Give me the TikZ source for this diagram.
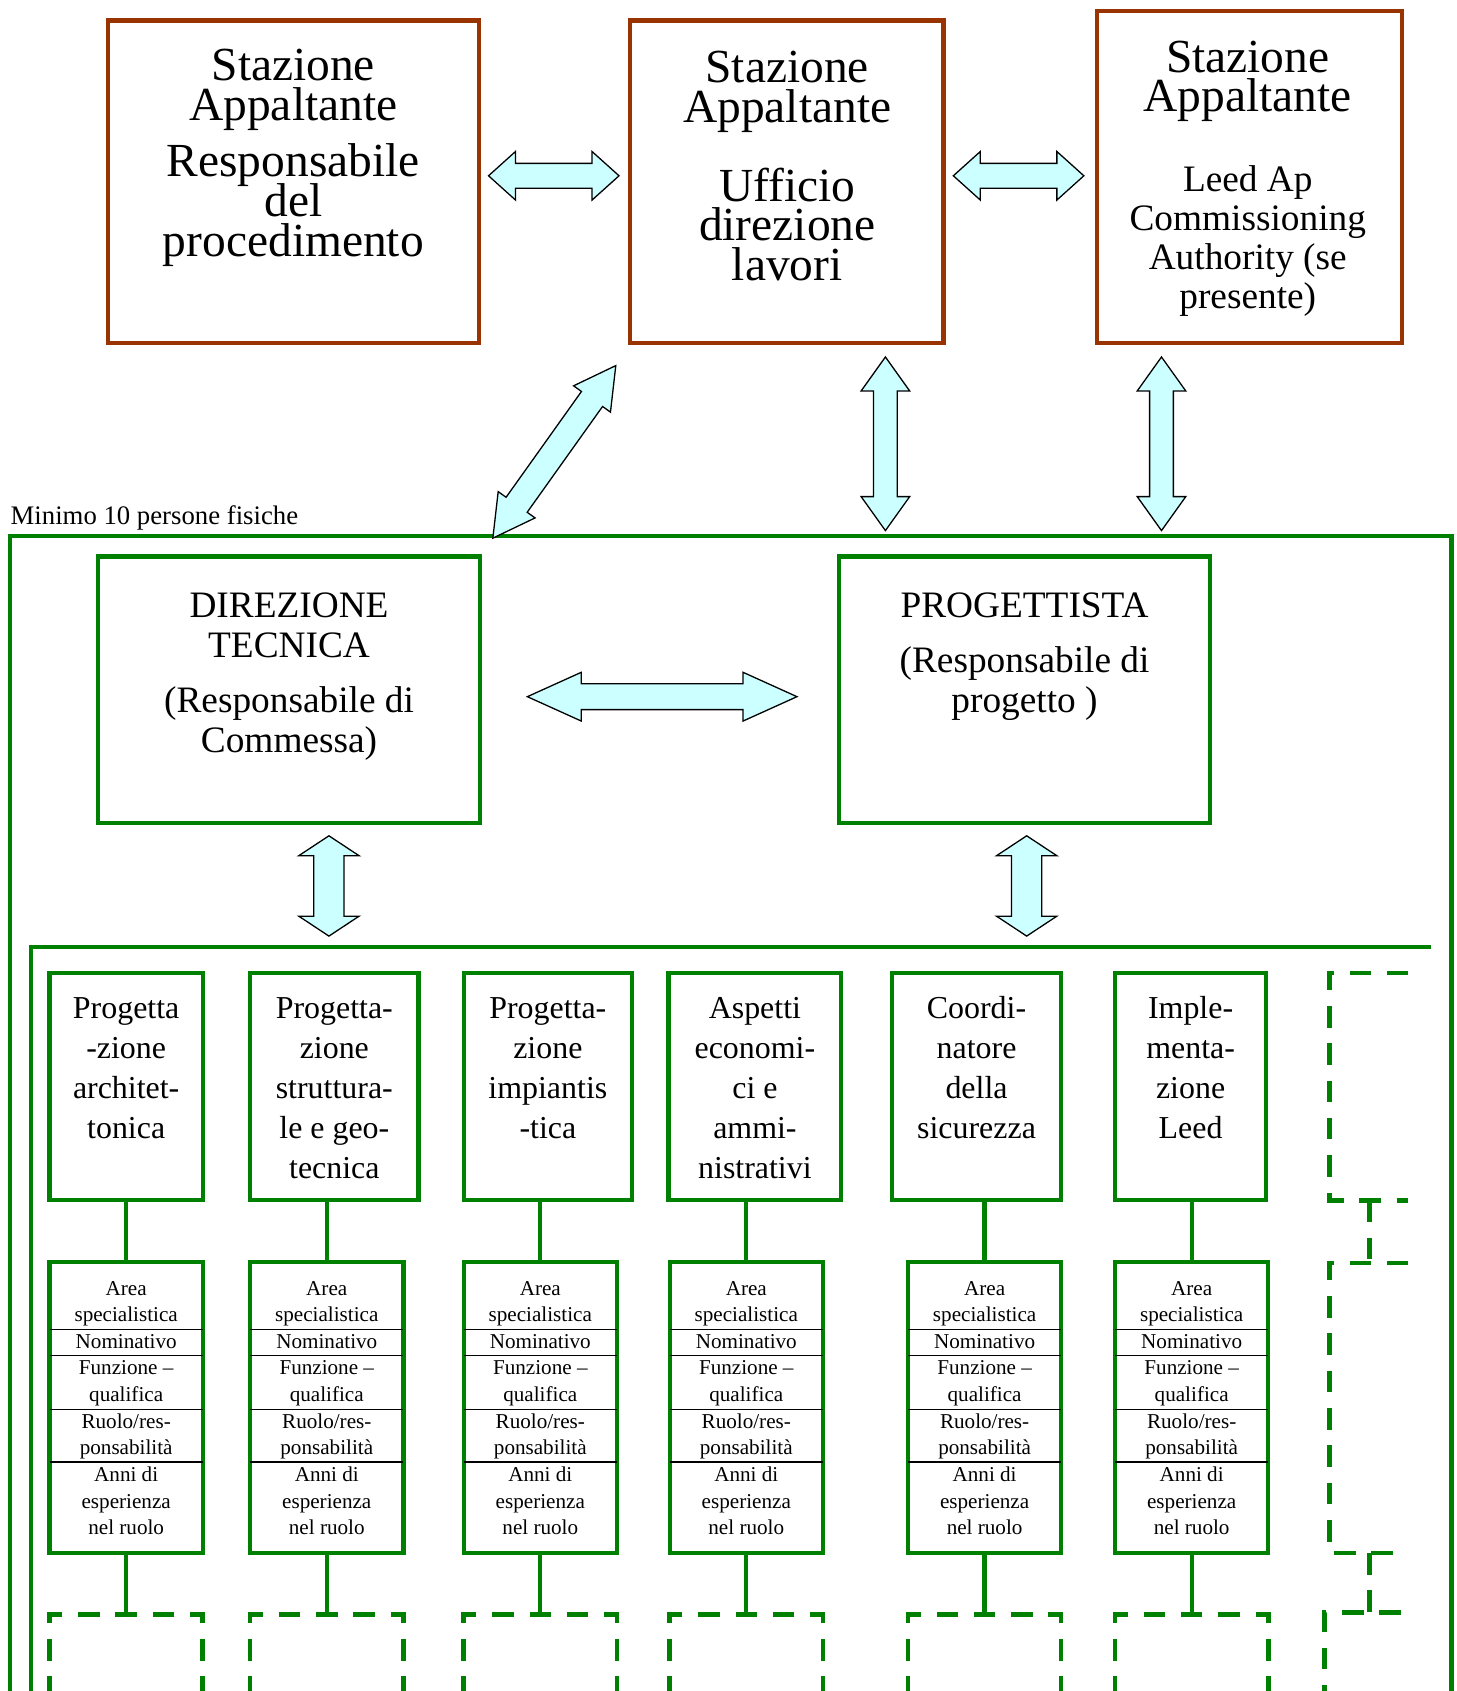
\documentclass[tikz,border=0pt]{standalone}
\usepackage{fontspec}
\setmainfont{Liberation Serif}
\usetikzlibrary{calc,fit}
\definecolor{brn}{RGB}{153,51,0}
\definecolor{grn}{RGB}{0,128,0}
\definecolor{acyan}{RGB}{204,255,255}
\newcommand\stk[2]{\vtop{\baselineskip=#1\relax\lineskiplimit=-\maxdimen\halign{\hfil##\hfil\cr#2\crcr}}}
\newcommand\dblarrow[5]{%
  \coordinate (h1) at ($(#1)!#3!(#2)$);
  \coordinate (h2) at ($(#2)!#3!(#1)$);
  \draw[blk] (#1) -- ($(h1)!#4!90:(#2)$) -- ($(h1)!#5!90:(#2)$) -- ($(h2)!#5!-90:(#1)$) -- ($(h2)!#4!-90:(#1)$) -- (#2) -- ($(h2)!#4!90:(#1)$) -- ($(h2)!#5!90:(#1)$) -- ($(h1)!#5!-90:(#2)$) -- ($(h1)!#4!-90:(#2)$) -- cycle;}
\newcommand\detailbox[3]{%
  \node[greenbox, fit={(#2,1170) (#3,1440)}] (#1) {};
  \foreach \yy in {1232.6,1256.7,1307,1355.5} \draw[sepline] (#2,\yy) -- (#3,\yy);
  \node[smalltxt] (#1t) at ($(#1.north)+(0,32.8)$) {\stk{12.35pt}{Area\cr specialistica\cr Nominativo\cr Funzione --\cr qualifica\cr Ruolo/res-\cr ponsabilità\cr Anni di\cr esperienza\cr nel ruolo}};}
\tikzset{
  brownbox/.style={draw=brn, line width=2pt, inner sep=0pt},
  greenbox/.style={draw=grn, line width=2pt, inner sep=0pt},
  dashbox/.style={draw=grn, line width=2.1pt, inner sep=0pt, dash pattern=on 10pt off 7.3pt},
  grnline/.style={draw=grn, line width=2pt},
  dashline/.style={draw=grn, line width=2.1pt, dash pattern=on 10pt off 7.3pt},
  sepline/.style={draw=black, line width=0.7pt},
  blk/.style={draw=black, fill=acyan, line width=0.6pt, line join=miter},
  bigtxt/.style={anchor=base, inner sep=0pt, font=\fontsize{22}{18.4}\selectfont},
  medtxt/.style={anchor=base, inner sep=0pt, font=\fontsize{17.3}{18.4}\selectfont},
  coltxt/.style={anchor=base, inner sep=0pt, font=\fontsize{14.8}{18.5}\selectfont},
  smalltxt/.style={anchor=base, inner sep=0pt, font=\fontsize{9.8}{12.35}\selectfont},
  labtxt/.style={anchor=base west, inner sep=0pt, font=\fontsize{12.4}{14}\selectfont}
}
\begin{document}
\begin{tikzpicture}[x=0.5pt,y=-0.5pt]
\path[use as bounding box] (0,0) rectangle (1351,1568);
\clip (0,0) rectangle (1351,1568);
% top brown boxes
\node[brownbox, fit={(100,19) (444,318)}] (b1) {};
\node[brownbox, fit={(584,19) (875,318)}] (b2) {};
\node[brownbox, fit={(1017,10) (1300,318)}] (b3) {};
\node[bigtxt] (b1t) at (272,75) {\stk{18.4pt}{Stazione\cr Appaltante\cr\noalign{\vskip7.7pt} Responsabile\cr del\cr procedimento}};
\node[bigtxt] (b2t) at (730,76.5) {\stk{18.4pt}{Stazione\cr Appaltante\cr\noalign{\vskip18.2pt} Ufficio\cr direzione\cr lavori}};
\node[bigtxt] (b3t) at (1157,67) {\stk{18.1pt}{Stazione\cr Appaltante\cr\noalign{\vskip19.2pt} {\fontsize{17.3}{18}\selectfont Leed Ap}\cr {\fontsize{17.3}{18}\selectfont Commissioning}\cr {\fontsize{17.3}{18}\selectfont Authority (se}\cr {\fontsize{17.3}{18}\selectfont presente)}}};
% label and frames
\node[labtxt] (lab) at (9.5,486) {Minimo 10 persone fisiche};
\draw[grnline] (9,1600) |- (1346,497) -- (1346,1600);
\draw[grnline] (29,1600) |- (1327,878);
\coordinate (ftop1) at (821,492);
\coordinate (ftop2) at (1077,492);
\coordinate (fdiag) at (457,499);
% middle boxes
\node[greenbox, fit={(91,516) (445,763)}] (dt) {};
\node[greenbox, fit={(778,516) (1122,763)}] (pg) {};
\node[medtxt] (dtt) at (268,572.6) {\stk{18.4pt}{DIREZIONE\cr TECNICA\cr\noalign{\vskip7.3pt} (Responsabile di\cr Commessa)}};
\node[medtxt] (pgt) at (950,572.6) {\stk{18.4pt}{PROGETTISTA\cr\noalign{\vskip7.3pt} (Responsabile di\cr progetto )}};
% block arrows
\coordinate (a1a) at (453,163); \coordinate (a1b) at (574,163);
\dblarrow{a1a}{a1b}{12.5pt}{11.25pt}{5.75pt}
\coordinate (a2a) at (884,163); \coordinate (a2b) at (1005,163);
\dblarrow{a2a}{a2b}{12.5pt}{11.25pt}{5.75pt}
\coordinate (v1a) at (821,331);
\dblarrow{v1a}{ftop1}{15.75pt}{11.25pt}{5.5pt}
\coordinate (v2a) at (1077,331);
\dblarrow{v2a}{ftop2}{15.75pt}{11.25pt}{5.5pt}
\coordinate (dga) at (571,339);
\dblarrow{fdiag}{dga}{19pt}{10.5pt}{6pt}
\coordinate (mha) at (489,646); \coordinate (mhb) at (739,646);
\dblarrow{mha}{mhb}{25pt}{11.3pt}{6pt}
\coordinate (l1a) at (305,775); \coordinate (l1b) at (305,868);
\dblarrow{l1a}{l1b}{9.25pt}{14pt}{7pt}
\coordinate (l2a) at (952,775); \coordinate (l2b) at (952,868);
\dblarrow{l2a}{l2b}{9.25pt}{14pt}{7pt}
% column top boxes
\node[greenbox, fit={(46,902) (188,1113)}] (t1) {};
\node[greenbox, fit={(232,902) (388,1113)}] (t2) {};
\node[greenbox, fit={(430,902) (586,1113)}] (t3) {};
\node[greenbox, fit={(620,902) (780,1113)}] (t4) {};
\node[greenbox, fit={(827,902) (984,1113)}] (t5) {};
\node[greenbox, fit={(1034,902) (1174,1113)}] (t6) {};
\node[coltxt] (t1x) at (117,944.5) {\stk{18.5pt}{Progetta\cr -zione\cr architet-\cr tonica}};
\node[coltxt] (t2x) at (310,944.5) {\stk{18.5pt}{Progetta-\cr zione\cr struttura-\cr le e geo-\cr tecnica}};
\node[coltxt] (t3x) at (508,944.5) {\stk{18.5pt}{Progetta-\cr zione\cr impiantis\cr -tica}};
\node[coltxt] (t4x) at (700,944.5) {\stk{18.5pt}{Aspetti\cr economi-\cr ci e\cr ammi-\cr nistrativi}};
\node[coltxt] (t5x) at (905.5,944.5) {\stk{18.5pt}{Coordi-\cr natore\cr della\cr sicurezza}};
\node[coltxt] (t6x) at (1104,944.5) {\stk{18.5pt}{Imple-\cr menta-\cr zione\cr Leed}};
% detail boxes
\detailbox{d1}{46}{188}
\detailbox{d2}{232}{374}
\detailbox{d3}{430}{572}
\detailbox{d4}{621}{763}
\detailbox{d5}{842}{984}
\detailbox{d6}{1034}{1176}
% dashed boxes (bottom row)
\node[dashbox, fit={(46,1497) (188,1640)}] (e1) {};
\node[dashbox, fit={(232,1497) (374,1640)}] (e2) {};
\node[dashbox, fit={(430,1497) (572,1640)}] (e3) {};
\node[dashbox, fit={(621,1497) (763,1640)}] (e4) {};
\node[dashbox, fit={(842,1497) (984,1640)}] (e5) {};
\node[dashbox, fit={(1034,1497) (1176,1640)}] (e6) {};
% connectors
\foreach \i in {1,...,6}{
  \draw[grnline] (d\i.north) -- (d\i.north |- t\i.south);
  \draw[grnline] (d\i.south) -- (e\i.north);
}
% dashed seventh column
\draw[dashline] (1306,902) -- (1233,902) -- (1233,1113) -- (1306,1113);
\coordinate (c7a) at (1270,1113); \coordinate (c7b) at (1270,1171);
\draw[dashline] (c7a) -- (c7b);
\draw[dashline] (1306,1171) -- (1233,1171) -- (1233,1440) -- (1296,1440);
\coordinate (c7c) at (1270,1440); \coordinate (c7d) at (1270,1495);
\draw[dashline] (c7c) -- (c7d);
\draw[dashline] (1299,1495) -- (1228,1495) -- (1228,1600);
\end{tikzpicture}
\end{document}
